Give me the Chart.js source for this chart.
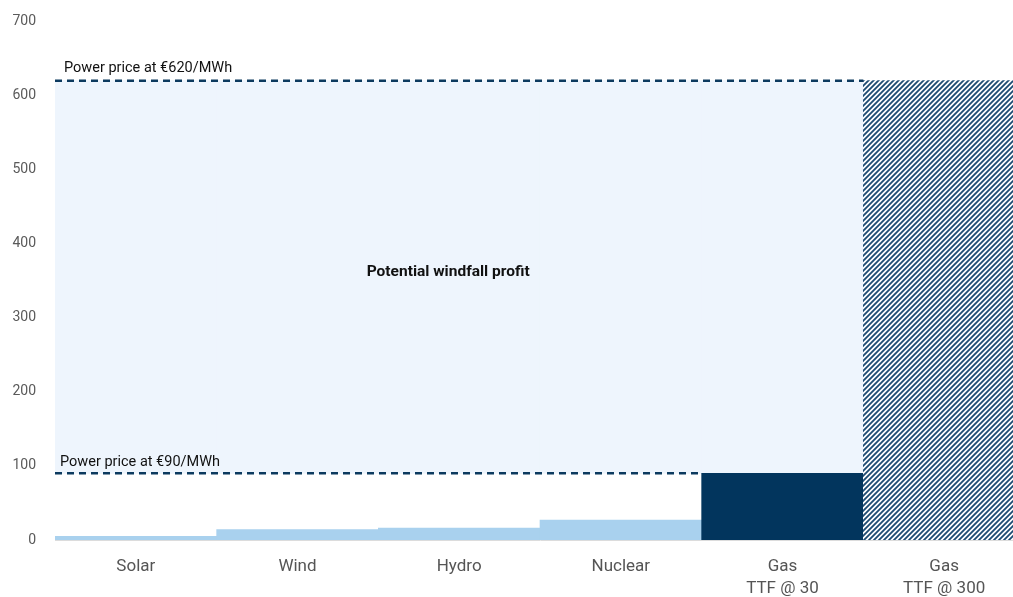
<!DOCTYPE html>
<html>
<head>
<meta charset="utf-8">
<script src="https://cdn.jsdelivr.net/npm/chart.js@4.4.1/dist/chart.umd.min.js"></script>
<style>
  html, body { margin: 0; padding: 0; background: #fff; overflow: hidden; }
  #wrap { width: 1025px; height: 603px; position: relative; margin-top: -6px; }
</style>
</head>
<body>
<div id="wrap"><canvas id="grafico"></canvas></div>
<script>
// ======= DADOS =======
const categorias = ["Solar", "Wind", "Hydro", "Nuclear", ["Gas", "TTF @ 30"], ["Gas", "TTF @ 300"]];
const custos = [5, 14, 16, 27, 90, 620];
const tipoBarra = ["renov", "renov", "renov", "renov", "gas", "gasAlto"];
const precoBaixo = 90;
const precoAlto = 620;
const faixaLucro = [[90, 620], [90, 620], [90, 620], [90, 620], [90, 620], null];
const ticksY = [0, 100, 200, 300, 400, 500, 600, 700];

const FONTE = "Roboto, 'Noto Sans', sans-serif";

// hachura diagonal da ultima barra
function criarHachura() {
  const s = 5;
  const c = document.createElement("canvas");
  c.width = s;
  c.height = s;
  const g = c.getContext("2d");
  g.fillStyle = "#ffffff";
  g.fillRect(0, 0, s, s);
  g.strokeStyle = "#1b4a72";
  g.lineWidth = 1.8;
  g.beginPath();
  g.moveTo(-1, s + 1); g.lineTo(s + 1, -1);
  g.moveTo(-1, 1); g.lineTo(1, -1);
  g.moveTo(s - 1, s + 1); g.lineTo(s + 1, s - 1);
  g.stroke();
  return document.getElementById("grafico").getContext("2d").createPattern(c, "repeat");
}

const hachura = criarHachura();
const coresBarra = tipoBarra.map((t) =>
  t === "renov" ? "#a9d1ee" : t === "gas" ? "#02355d" : hachura
);

// linhas tracejadas de preco + textos
const anotacoes = {
  id: "anotacoes",
  afterDatasetsDraw(chart) {
    const { ctx, chartArea, scales } = chart;
    const x = scales.x, y = scales.y;
    const meia = (x.getPixelForValue(1) - x.getPixelForValue(0)) / 2;
    const esq = chartArea.left;

    ctx.save();
    ctx.strokeStyle = "#0c3a5f";
    ctx.lineWidth = 2.5;
    ctx.setLineDash([7, 5]);

    const yAlto = y.getPixelForValue(precoAlto);
    ctx.beginPath();
    ctx.moveTo(esq, yAlto);
    ctx.lineTo(x.getPixelForValue(5) - meia, yAlto);
    ctx.stroke();

    const yBaixo = y.getPixelForValue(precoBaixo);
    ctx.beginPath();
    ctx.moveTo(esq, yBaixo);
    ctx.lineTo(x.getPixelForValue(4) - meia, yBaixo);
    ctx.stroke();

    ctx.setLineDash([]);
    ctx.fillStyle = "#111";
    ctx.font = "14.5px " + FONTE;
    ctx.textAlign = "left";
    ctx.textBaseline = "bottom";
    ctx.fillText("Power price at €620/MWh", esq + 9, yAlto - 5);
    ctx.fillText("Power price at €90/MWh", esq + 5, yBaixo - 4);

    ctx.font = "bold 15.5px " + FONTE;
    ctx.textAlign = "center";
    ctx.textBaseline = "middle";
    const centro = (esq + x.getPixelForValue(5) - meia) / 2 - 11;
    ctx.fillText("Potential windfall profit", centro, y.getPixelForValue(362));
    ctx.restore();
  },
};

new Chart(document.getElementById("grafico"), {
  type: "bar",
  data: {
    labels: categorias,
    datasets: [
      {
        label: "Custo",
        data: custos,
        backgroundColor: coresBarra,
        borderWidth: 0,
        grouped: false,
        categoryPercentage: 1,
        barPercentage: 1,
      },
      {
        label: "Lucro",
        data: faixaLucro,
        backgroundColor: "#eef5fd",
        borderWidth: 0,
        grouped: false,
        categoryPercentage: 1,
        barPercentage: 1,
      },
    ],
  },
  options: {
    responsive: true,
    maintainAspectRatio: false,
    animation: false,
    layout: { padding: { top: 14, right: 0, left: 0, bottom: 0 } },
    plugins: { legend: { display: false }, tooltip: { enabled: false } },
    scales: {
      x: {
        grid: { display: false, drawTicks: false },
        border: { display: true, color: "#dcdcdc", width: 1 },
        ticks: {
          color: "#555",
          font: { family: FONTE, size: 17, lineHeight: 1.3 },
          padding: 16,
          maxRotation: 0,
          autoSkip: false,
        },
        afterFit(scale) { scale.height = 57; },
      },
      y: {
        min: 0,
        max: 700,
        afterBuildTicks(scale) { scale.ticks = ticksY.map((v) => ({ value: v })); },
        grid: { display: false, drawTicks: false },
        border: { display: false },
        ticks: {
          color: "#5a5a5a",
          font: { family: FONTE, size: 14 },
          padding: 19,
        },
        afterFit(scale) { scale.width = 55; },
      },
    },
  },
  plugins: [anotacoes],
});
</script>
</body>
</html>
